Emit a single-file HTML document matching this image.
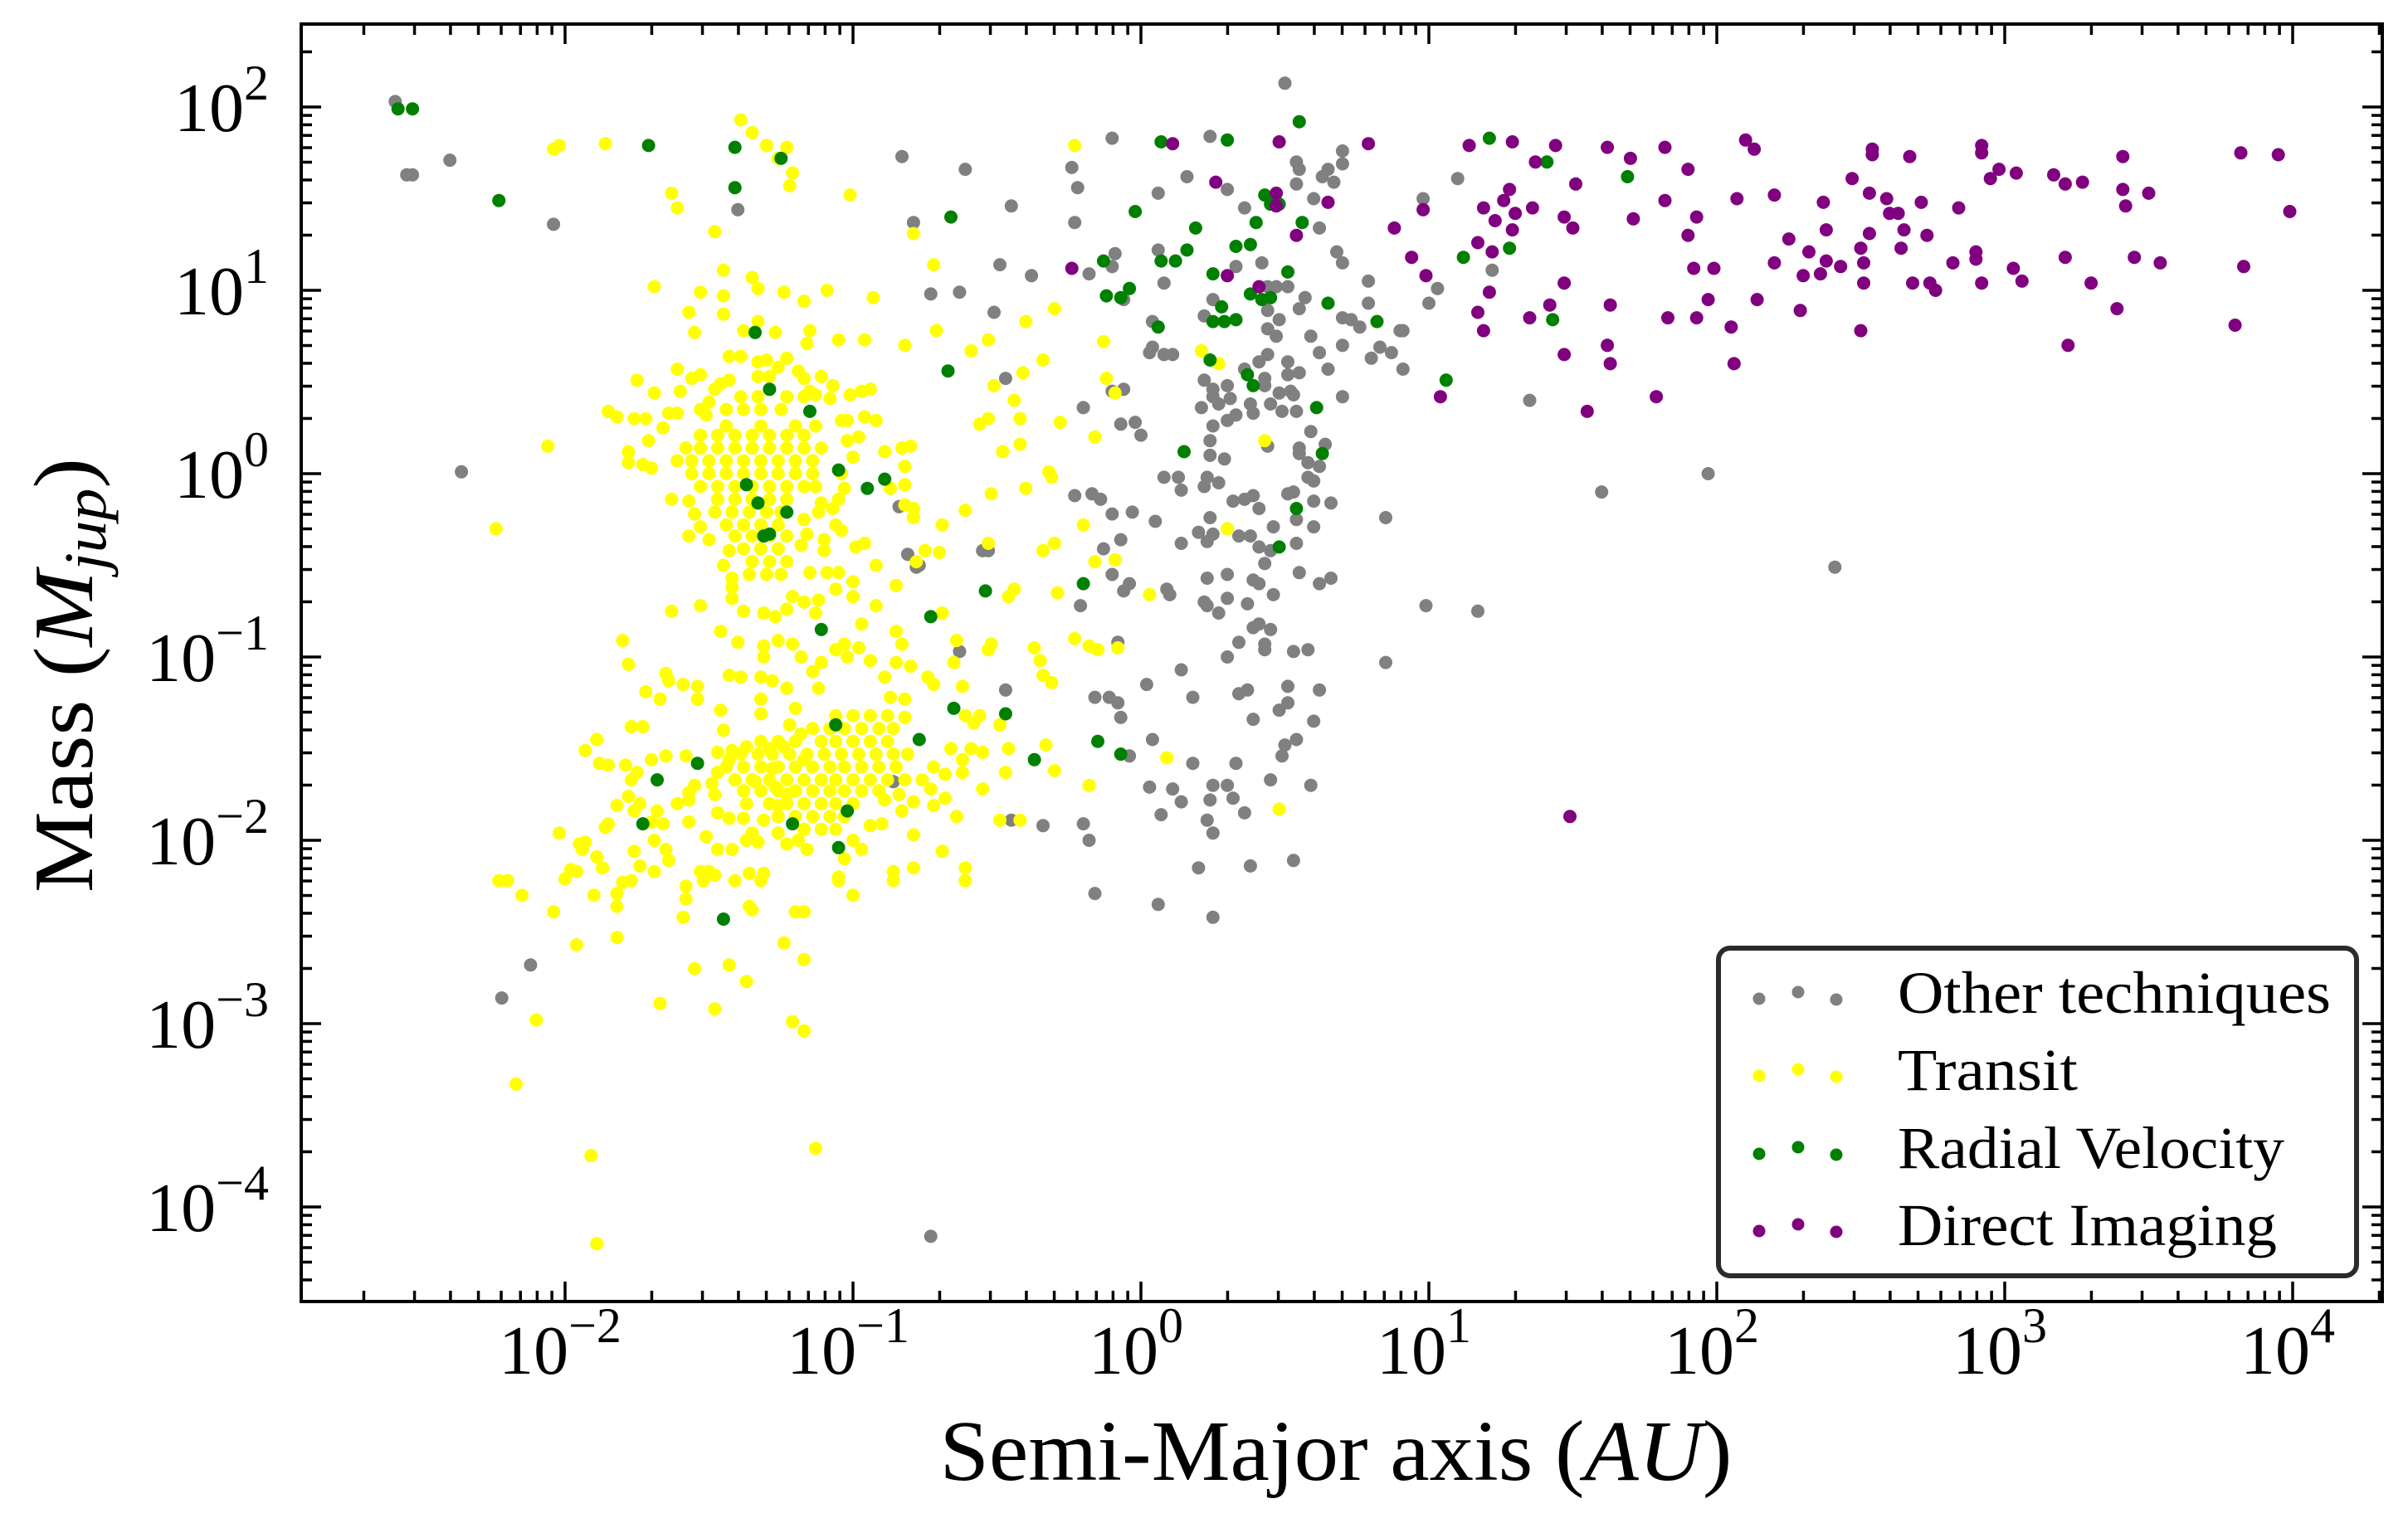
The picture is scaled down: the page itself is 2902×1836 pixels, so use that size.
<!DOCTYPE html>
<html>
<head>
<meta charset="utf-8">
<title>Exoplanet mass vs semi-major axis</title>
<style>
  html, body { margin: 0; padding: 0; background: #ffffff; }
  svg { display: block; }
  text { font-family: "Liberation Serif", "DejaVu Serif", serif; fill: #000; }
</style>
</head>
<body>
<svg id="chart" width="2902" height="1836" viewBox="0 0 2902 1836" xmlns="http://www.w3.org/2000/svg">
  <rect x="0" y="0" width="2902" height="1836" fill="#ffffff"/>
  <g id="points"></g>
  <g id="ticks"></g>
  <rect x="363" y="29" width="2508" height="1540" fill="none" stroke="#000" stroke-width="4"/>
  <g id="xlabels"></g>
  <g id="ylabels"></g>
  <text x="1610" y="1784" font-size="104" text-anchor="middle" textLength="955" lengthAdjust="spacingAndGlyphs">Semi-Major axis (<tspan font-style="italic">AU</tspan>)</text>
  <text transform="translate(111,814) rotate(-90)" font-size="102" text-anchor="middle" textLength="524" lengthAdjust="spacingAndGlyphs">Mass (<tspan font-style="italic">M</tspan><tspan font-style="italic" font-size="72" dy="16">jup</tspan><tspan dy="-16">)</tspan></text>
  <g id="legend">
    <rect x="2071" y="1143" width="769" height="395" rx="14" ry="14" fill="#ffffff" stroke="#2b2b2b" stroke-width="6"/>
  </g>
</svg>
<script>
// ---- data (log10 of semi-major axis in AU, log10 of mass in Jupiter masses) ----
const xTickExps = [-2, -1, 0, 1, 2, 3, 4];
const yTickExps = [-4, -3, -2, -1, 0, 1, 2];
const seriesNames = ["Other techniques", "Transit", "Radial Velocity", "Direct Imaging"];
const seriesColors = ["#808080", "#ffff00", "#008000", "#800080"];

const otherPts = [
[-2.59,2.03],[-2.55,1.63],[-2.53,1.63],[-2.40,1.71],[-2.04,1.36],[-1.40,1.44],[-0.83,1.73],[0.50,2.13],[-2.36,0.01],[2.41,-0.51],
[-0.84,-0.18],[-0.81,-0.44],[-0.78,-0.51],[-2.12,-2.68],[-2.22,-2.86],[-0.86,-1.68],[-0.73,-4.16],
[-0.61,1.66],[-0.24,1.67],[-0.22,1.56],[-0.45,1.46],[-0.23,1.37],[-0.79,1.37],[-0.49,1.14],[-0.38,1.08],[-0.73,0.98],[-0.63,0.99],[-0.51,0.88],
[-0.10,1.83],[0.16,1.62],[0.06,1.53],[0.24,1.84],[0.30,1.55],[0.36,1.45],[0.54,1.70],[0.55,1.66],[0.54,1.58],[0.65,1.66],[0.63,1.62],[0.67,1.59],
[0.70,1.76],[0.70,1.69],[0.60,1.50],[0.62,1.34],[0.68,1.21],[0.70,1.15],[1.10,1.61],[0.98,1.50],[-0.09,1.20],[-0.10,1.13],[-0.18,1.09],[0.06,1.22],
[0.08,1.04],[-0.06,0.95],[0.33,1.13],[0.42,1.15],[0.44,1.02],[0.47,1.02],[0.51,1.02],[0.57,0.96],[0.55,0.90],[0.44,0.89],[0.48,0.84],[0.44,0.79],
[0.47,0.75],[0.25,0.95],[0.22,0.86],[0.04,0.83],[0.04,0.69],[0.03,0.66],[0.08,0.65],[0.11,0.65],[0.79,1.05],[0.79,0.93],[0.70,0.85],[0.73,0.84],
[0.76,0.80],[0.59,0.75],[0.70,0.70],[0.62,0.66],[0.83,0.69],[0.87,0.66],[0.80,0.63],[0.90,0.78],[0.91,0.78],[0.91,0.57],[1.03,1.01],[1.00,0.93],
[0.51,0.61],[0.41,0.61],[0.44,0.65],[0.36,0.57],[0.43,0.52],[0.43,0.48],[0.51,0.54],[0.55,0.55],[0.65,0.57],[0.70,0.42],[0.22,0.51],[0.30,0.48],
[0.25,0.46],[0.25,0.42],[0.31,0.41],[0.27,0.38],[0.21,0.36],[0.38,0.38],[0.39,0.33],[0.45,0.38],[0.48,0.44],[0.52,0.45],[0.53,0.43],[0.49,0.34],
[0.54,0.34],[0.33,0.32],[0.30,0.29],[0.25,0.26],[0.24,0.18],[0.24,0.10],[0.29,0.08],[0.44,0.15],[0.55,0.14],[0.55,0.11],[0.58,0.06],[0.62,0.04],
[0.64,0.16],[0.59,0.23],[-0.06,0.46],[-0.10,0.45],[-0.20,0.36],[-0.07,0.27],[-0.02,0.28],[0.00,0.21],[-0.47,0.52],[0.08,-0.02],[0.13,-0.02],
[0.14,-0.09],[0.23,-0.02],[0.22,-0.07],[0.27,-0.05],[0.32,-0.15],[0.36,-0.14],[0.39,-0.12],[0.41,-0.19],[0.51,-0.11],[0.53,-0.10],[0.58,-0.02],
[0.60,-0.04],[0.60,-0.15],[0.66,-0.16],[0.54,-0.25],[0.60,-0.29],[0.85,-0.24],[-0.23,-0.12],[-0.17,-0.11],[-0.14,-0.14],[-0.10,-0.22],[-0.03,-0.21],
[0.05,-0.26],[0.24,-0.24],[0.20,-0.32],[0.25,-0.33],[0.23,-0.37],[0.34,-0.34],[0.38,-0.34],[0.41,-0.40],[0.46,-0.29],[0.45,-0.42],[0.54,-0.38],
[0.43,-0.49],[0.14,-0.38],[-0.07,-0.36],[-0.13,-0.41],[-0.55,-0.42],[-0.53,-0.42],[-0.77,-0.50],[-0.10,-0.55],[-0.04,-0.60],[-0.06,-0.64],
[0.09,-0.63],[0.10,-0.66],[-0.21,-0.72],[0.23,-0.57],[0.30,-0.55],[0.39,-0.58],[0.41,-0.60],[0.46,-0.66],[0.55,-0.54],[0.62,-0.60],[0.66,-0.57],
[0.22,-0.70],[0.23,-0.72],[0.30,-0.68],[0.37,-0.71],[0.27,-0.76],[0.99,-0.72],[1.17,-0.75],[0.39,-0.84],[0.41,-0.82],[0.45,-0.85],[0.34,-0.92],
[0.43,-0.93],[0.43,-0.96],[0.30,-1.00],[0.53,-0.97],[0.58,-0.96],[0.85,-1.03],[0.14,-1.07],[-0.08,-0.92],[-0.63,-0.97],
[-0.47,-1.18],[-0.16,-1.22],[-0.11,-1.22],[-0.08,-1.25],[-0.07,-1.33],[0.02,-1.15],[0.18,-1.22],[0.34,-1.20],[0.37,-1.18],[0.51,-1.16],[0.62,-1.18],
[0.48,-1.29],[0.51,-1.25],[0.39,-1.34],[0.60,-1.35],[0.04,-1.45],[0.54,-1.45],[0.50,-1.48],[0.49,-1.54],[-0.04,-1.54],[0.18,-1.58],[0.33,-1.58],
[0.03,-1.71],[0.11,-1.72],[0.14,-1.79],[0.07,-1.86],[0.25,-1.70],[0.30,-1.70],[0.24,-1.78],[0.32,-1.77],[0.36,-1.85],[0.45,-1.67],[0.59,-1.70],
[0.23,-1.89],[0.25,-1.96],[-0.20,-1.91],[-0.18,-2.00],[-0.34,-1.92],[-0.45,-1.89],[0.20,-2.15],[0.38,-2.14],[0.53,-2.11],[-0.16,-2.29],[0.06,-2.35],[0.25,-2.42],
[1.35,0.40],[1.97,0.00],[1.60,-0.10],[1.22,1.11]
];

const transitPts = [
[-2.04,1.77],[-2.02,1.79],[-1.86,1.80],[-1.63,1.53],[-1.61,1.45],[-1.39,1.93],[-1.35,1.86],[-1.30,1.79],[-1.23,1.78],[-1.26,1.72],[-1.21,1.64],
[-1.22,1.57],[-1.01,1.52],[-1.48,1.32],[-0.79,1.31],[-0.23,1.79],
[-1.45,1.11],[-1.69,1.02],[-1.35,1.07],[-1.33,1.01],[-1.53,0.99],[-1.45,0.97],[-1.24,0.99],[-1.09,1.00],[-0.93,0.96],[-0.72,1.14],[-1.57,0.88],
[-1.45,0.87],[-1.17,0.94],[-1.55,0.77],[-1.33,0.83],[-1.27,0.77],[-1.15,0.78],[-1.38,0.78],[-1.16,0.71],[-1.05,0.73],[-0.96,0.73],[-0.82,0.70],
[-0.71,0.78],[-0.59,0.67],[-0.53,0.73],[-0.40,0.83],[-0.30,0.90],[-0.13,0.72],[-0.34,0.62],[-0.41,0.55],[-0.51,0.48],[-0.44,0.40],[-0.42,0.30],
[-0.53,0.30],[-0.56,0.27],[-0.28,0.28],[-0.16,0.20],[-0.12,0.52],[-0.09,0.44],[-0.48,0.12],[-0.42,0.16],[-0.32,0.01],[-0.31,-0.02],[-0.40,-0.08],
[-0.52,-0.11],[-0.61,-0.20],[-0.69,-0.28],[-0.20,-0.28],[-0.53,-0.38],[-0.30,-0.38],[-0.34,-0.42],[-0.16,-0.48],[-0.09,-0.47],[-0.75,-0.42],
[-0.70,-0.43],[-0.78,-0.48],[-0.85,-0.61],[-0.44,-0.63],[-0.46,-0.67],[-0.29,-0.65],[-0.69,-0.76],
[-1.75,0.51],[-1.69,0.44],[-1.85,0.34],[-1.82,0.31],[-1.76,0.30],[-1.72,0.30],[-1.78,0.12],[-1.71,0.18],[-1.78,0.06],[-1.73,0.05],[-1.70,0.03],
[-1.66,0.25],[-1.64,0.33],[-1.61,0.33],[-1.60,0.45],[-1.61,0.57],[-1.56,0.52],[-1.53,0.54],[-1.50,0.39],[-1.51,0.32],[-1.48,0.46],[-1.46,0.49],
[-1.43,0.51],[-1.43,0.64],[-1.39,0.64],[-1.33,0.61],[-1.30,0.62],[-1.26,0.58],[-1.23,0.63],[-1.19,0.56],[-1.17,0.52],[-1.11,0.53],[-1.07,0.48],
[-1.13,0.43],[-1.15,0.45],[-1.08,0.41],[-1.01,0.43],[-0.97,0.45],[-0.94,0.46],[-1.04,0.29],[-1.02,0.29],[-0.96,0.31],[-0.92,0.29],[-0.98,0.20],
[-1.02,0.18],[-1.00,0.09],[-0.89,0.12],[-0.83,0.14],[-0.80,0.15],[-0.82,0.04],[-0.87,-0.08],[-0.82,-0.06],[-0.82,-0.17],[-0.79,-0.19],[-0.79,-0.24],
[-1.04,0.00],[-1.03,-0.08],[-1.05,-0.14],[-1.07,-0.19],[-1.11,-0.16],[-1.12,-0.21],[-1.06,-0.28],[-1.04,-0.31],[-1.10,-0.36],[-1.10,-0.42],
[-1.17,-0.25],[-1.16,-0.33],[-1.18,-0.39],[-0.99,-0.40],[-0.96,-0.38],[-0.92,-0.50],[-1.09,-0.54],[-1.15,-0.54],[-1.05,-0.54],[-1.00,-0.59],
[-1.06,-0.63],[-1.00,-0.67],[-1.12,-0.69],[-1.13,-0.76],[-1.21,-0.67],[-1.17,-0.70],[-1.23,-0.74],[-1.27,-0.78],[-1.31,-0.76],[-0.92,-0.72],
[-1.63,-0.14],[-1.57,-0.15],[-1.55,-0.22],[-1.57,-0.34],[-1.50,-0.36],[-1.53,-0.29],[-1.45,-0.50],[-1.43,-0.42],[-1.42,-0.57],[-1.42,-0.62],
[-1.42,-0.68],[-1.38,-0.75],[-1.53,-0.72],[-1.63,-0.75],[-2.06,0.15],[-2.24,-0.30],
[-1.33,0.53],[-1.29,0.53],
[-1.39,0.42],[-1.33,0.42],[-1.23,0.42],[-1.17,0.42],
[-1.53,0.35],[-1.44,0.35],[-1.38,0.35],[-1.32,0.35],[-1.25,0.35],
[-1.44,0.26],[-1.32,0.26],[-1.20,0.26],[-1.13,0.26],
[-1.53,0.21],[-1.47,0.21],[-1.41,0.21],[-1.35,0.21],[-1.29,0.21],[-1.23,0.21],[-1.17,0.21],
[-1.58,0.14],[-1.53,0.14],[-1.47,0.14],[-1.41,0.14],[-1.35,0.14],[-1.29,0.14],[-1.23,0.14],[-1.17,0.14],[-1.11,0.14],
[-1.61,0.07],[-1.56,0.07],[-1.50,0.07],[-1.44,0.07],[-1.38,0.07],[-1.32,0.07],[-1.26,0.07],[-1.20,0.07],[-1.14,0.07],
[-1.56,0.00],[-1.50,0.00],[-1.44,0.00],[-1.38,0.00],[-1.32,0.00],[-1.26,0.00],[-1.20,0.00],[-1.14,0.00],
[-1.53,-0.07],[-1.47,-0.07],[-1.41,-0.07],[-1.35,-0.07],[-1.29,-0.07],[-1.23,-0.07],[-1.17,-0.07],[-1.13,-0.07],
[-1.47,-0.14],[-1.41,-0.14],[-1.35,-0.14],[-1.29,-0.14],[-1.23,-0.14],
[-1.48,-0.21],[-1.42,-0.21],[-1.36,-0.21],[-1.30,-0.21],[-1.25,-0.21],
[-1.44,-0.28],[-1.38,-0.28],[-1.32,-0.28],[-1.26,-0.28],
[-1.41,-0.34],[-1.35,-0.34],[-1.29,-0.34],[-1.23,-0.34],
[-1.38,-0.41],[-1.32,-0.41],[-1.26,-0.41],
[-1.35,-0.48],[-1.29,-0.48],[-1.23,-0.48],
[-1.36,-0.55],[-1.30,-0.55],[-1.25,-0.55],
[-1.80,-0.91],[-1.78,-1.04],[-1.72,-1.19],[-1.67,-1.23],[-1.65,-1.09],[-1.64,-1.13],[-1.59,-1.15],[-1.54,-1.16],[-1.54,-1.23],[-1.93,-1.51],
[-1.89,-1.45],[-1.88,-1.58],[-1.85,-1.59],[-1.79,-1.59],[-1.70,-1.56],[-1.65,-1.54],[-1.58,-1.54],[-1.77,-1.38],[-1.73,-1.38],[-1.75,-1.63],
[-1.77,-1.67],[-1.78,-1.76],[-1.82,-1.81],[-1.74,-1.80],[-1.68,-1.84],[-1.76,-1.84],[-1.66,-1.91],[-1.70,-1.90],[-1.85,-1.91],[-1.86,-1.93],
[-2.02,-1.96],[-1.95,-2.02],[-1.93,-2.01],[-1.94,-2.05],[-1.89,-2.09],[-1.87,-2.15],[-1.98,-2.16],[-1.96,-2.17],[-2.00,-2.21],[-2.23,-2.22],
[-2.20,-2.22],[-2.15,-2.30],[-2.04,-2.39],[-1.90,-2.30],[-1.82,-2.36],[-1.82,-2.29],[-1.80,-2.23],[-1.77,-2.22],[-1.76,-2.06],[-1.74,-2.14],
[-1.69,-2.17],[-1.69,-2.00],[-1.65,-2.05],[-1.64,-2.11],[-1.57,-1.90],[-1.61,-1.80],[-1.57,-1.74],[-1.57,-1.78],[-1.55,-1.70],[-1.58,-2.25],
[-1.58,-2.32],[-1.59,-2.42],[-1.53,-2.17],[-1.50,-2.17],[-1.52,-2.22],[-1.48,-2.19],[-1.51,-1.98],[-1.47,-2.05],[-1.42,-2.05],[-1.41,-2.22],
[-1.36,-2.18],[-1.31,-2.18],[-1.32,-2.22],[-1.36,-2.36],[-1.35,-2.38],[-1.20,-2.39],[-1.17,-2.39],[-1.24,-2.56],[-1.17,-2.65],[-1.55,-2.70],
[-1.43,-2.68],[-1.37,-2.77],[-1.67,-2.89],[-1.48,-2.92],[-1.21,-2.99],[-1.17,-3.04],[-1.82,-2.53],[-1.96,-2.57],[-2.10,-2.98],[-2.17,-3.33],
[-1.91,-3.72],[-1.13,-3.68],[-1.89,-4.20],[-1.00,-2.30],[-1.05,-2.22],[-1.05,-2.20],[-1.03,-2.10],[-0.97,-2.05],[-1.00,-2.00],[-0.86,-2.22],
[-0.86,-2.17],[-0.79,-2.15],[-0.79,-1.97],[-0.69,-2.06],[-0.61,-2.15],[-0.61,-2.22],[-0.64,-1.87],[-0.55,-1.72],[-0.49,-1.89],[-0.42,-1.89],
[-0.47,-1.63],[-0.46,-1.50],[-0.33,-1.48],[-0.30,-1.62],[-0.18,-1.70],[-0.49,-1.37],[-0.62,-1.16],[-0.64,-0.91],[-0.65,-1.03],[-0.56,-1.32],
[-0.58,-1.36],[-0.61,-1.32],[-0.66,-1.50],[-0.62,-1.56],[-0.62,-1.63],[-0.59,-1.50],[-0.55,-1.52],[-0.68,-1.64],[-0.72,-1.60],[-0.68,-1.77],
[-0.72,-1.81],[-0.73,-1.72],[-0.79,-1.79],[-0.84,-1.75],[-0.83,-1.84],[-0.89,-1.78],[-0.90,-1.91],[-0.94,-1.92],[-0.82,-1.23],[-0.82,-1.33],
[-0.87,-1.22],[-0.83,-0.93],[-0.85,-0.86],[-0.85,-1.03],[-0.80,-1.05],[-0.74,-1.11],[-0.72,-1.15],[-0.89,-1.11],[-0.94,-1.02],[-0.98,-0.95],
[-1.02,-1.00],[-1.06,-0.96],[-1.03,-0.93],[-0.97,-0.82],[-1.11,-1.03],[-1.14,-1.08],[-1.12,-1.17],[-1.18,-1.00],[-1.21,-0.93],[-1.26,-0.91],
[-1.31,-0.94],[-1.31,-1.00],[-1.40,-0.92],[-1.46,-0.86],[-1.43,-1.10],[-1.39,-1.11],[-1.32,-1.11],[-1.28,-1.13],[-1.23,-1.17],[-1.32,-1.23],
[-1.32,-1.31],[-1.46,-1.29],[-1.45,-1.40],[-1.20,-1.28],[-1.22,-1.37],[-1.18,-1.42],[-1.37,-1.49],[-1.43,-1.56],[-1.47,-1.52],[-1.42,-1.51],
[-1.47,-1.63],[-1.49,-1.69],[-1.48,-1.75],[-1.47,-1.85],[-1.43,-1.88],[-1.38,-1.88],[-1.31,-1.89],[-1.26,-1.96],[-1.23,-2.02],[-1.19,-2.00],
[-1.16,-2.05],[-1.35,-1.96],[-1.37,-2.00],[-1.33,-2.01],[-1.37,-1.80],[-1.34,-1.68],[-1.26,-1.81],[-1.23,-1.75],[-1.27,-1.71],[-1.28,-1.61],
[-1.29,-1.50],[-1.24,-1.49],[-1.17,-1.56],
[-0.23,-0.90],[-0.18,-0.94],[-0.15,-0.96],[-0.08,-0.95],[-0.37,-0.95],[-0.35,-1.02],[-0.34,-1.10],[-0.31,-1.14],[-0.53,-0.96],[-0.52,-0.93],
[-1.06,-1.32],[-1.00,-1.32],[-0.94,-1.32],[-0.88,-1.32],
[-1.14,-1.39],[-1.08,-1.39],[-1.03,-1.39],[-0.97,-1.39],[-0.91,-1.39],[-0.86,-1.39],
[-1.32,-1.46],[-1.26,-1.46],[-1.20,-1.46],[-1.11,-1.46],[-1.06,-1.46],[-1.00,-1.46],[-0.94,-1.46],[-0.88,-1.46],
[-1.39,-1.53],[-1.33,-1.53],[-1.28,-1.53],[-1.22,-1.53],[-1.16,-1.53],[-1.10,-1.53],[-1.04,-1.53],[-0.98,-1.53],[-0.92,-1.53],[-0.86,-1.53],[-0.81,-1.53],
[-1.44,-1.60],[-1.38,-1.60],[-1.32,-1.60],[-1.26,-1.60],[-1.20,-1.60],[-1.14,-1.60],[-1.08,-1.60],[-1.03,-1.60],[-0.97,-1.60],[-0.91,-1.60],[-0.85,-1.60],
[-1.41,-1.67],[-1.35,-1.67],[-1.29,-1.67],[-1.23,-1.67],[-1.17,-1.67],[-1.11,-1.67],[-1.06,-1.67],[-1.00,-1.67],[-0.94,-1.67],[-0.88,-1.67],[-0.82,-1.67],[-0.76,-1.67],
[-1.38,-1.73],[-1.32,-1.73],[-1.26,-1.73],[-1.20,-1.73],[-1.14,-1.73],[-1.08,-1.73],[-1.03,-1.73],[-0.97,-1.73],[-0.91,-1.73],
[-1.29,-1.80],[-1.23,-1.80],[-1.17,-1.80],[-1.11,-1.80],[-1.06,-1.80],[-1.00,-1.80],
[-1.26,-1.87],[-1.20,-1.87],[-1.14,-1.87],[-1.08,-1.87],[-1.03,-1.87],
[-1.17,-1.94],[-1.11,-1.94],[-1.06,-1.94],
[0.21,0.67],[0.27,0.60],[0.43,0.18],[0.30,-0.30],[0.03,-0.66],[0.09,-1.55],[0.48,-1.83]
];

const rvPts = [
[-2.58,1.99],[-2.53,1.99],[-2.23,1.49],[-1.71,1.79],[-1.41,1.78],[-1.41,1.56],[-1.25,1.72],
[-1.34,0.77],[-1.29,0.46],[-1.15,0.34],[-1.05,0.02],[-0.95,-0.08],[-0.89,-0.03],[-1.37,-0.06],[-1.33,-0.16],[-1.23,-0.21],[-1.31,-0.34],[-1.29,-0.33],
[-1.11,-0.85],[-1.06,-1.37],[-1.54,-1.58],[-1.68,-1.67],[-1.73,-1.91],[-1.21,-1.91],[-1.02,-1.84],[-1.05,-2.04],[-1.45,-2.43],
[0.55,1.92],[0.30,1.82],[0.07,1.81],[-0.66,1.40],[-0.02,1.43],[0.19,1.34],[0.40,1.37],[0.43,1.52],[0.45,1.47],[0.48,1.47],[0.56,1.37],
[0.33,1.24],[0.38,1.25],[0.16,1.22],[0.12,1.16],[0.07,1.16],[-0.13,1.16],[-0.04,1.01],[-0.12,0.97],[-0.07,0.96],[0.25,1.09],[0.51,1.10],
[0.38,0.98],[0.42,0.95],[0.45,0.96],[0.65,0.93],[0.28,0.91],[0.25,0.83],[0.29,0.83],[0.33,0.84],[0.06,0.80],[0.82,0.83],[-0.67,0.56],
[0.24,0.62],[0.37,0.54],[0.39,0.48],[0.61,0.36],[0.15,0.12],[0.63,0.11],[0.54,-0.19],[0.48,-0.40],[-0.54,-0.64],[-0.20,-0.60],[-0.73,-0.78],[1.06,0.51],
[-0.65,-1.28],[-0.47,-1.31],[-0.77,-1.45],[-0.37,-1.56],[-0.15,-1.46],[-0.07,-1.53],
[1.21,1.83],[1.41,1.70],[1.69,1.62],[1.28,1.23],[1.12,1.18],[1.43,0.84]
];

const diPts = [
[0.11,1.80],[0.26,1.59],[0.48,1.81],[0.79,1.80],[0.47,1.53],[0.47,1.46],[0.65,1.48],[0.54,1.30],[0.88,1.34],[0.94,1.18],[0.99,1.08],[-0.24,1.12],
[0.30,1.08],[0.41,1.02],[0.98,1.44],[1.04,0.42],
[1.14,1.79],[1.29,1.81],[1.44,1.79],[1.62,1.78],[1.82,1.78],[2.10,1.82],[2.13,1.77],[2.54,1.77],[2.54,1.74],[2.67,1.73],[2.92,1.79],[2.92,1.75],
[3.41,1.73],[3.82,1.75],[3.95,1.74],[1.37,1.70],[1.70,1.72],[1.90,1.66],[1.51,1.58],[1.28,1.55],[1.26,1.49],[1.19,1.45],[1.36,1.45],[1.30,1.42],
[1.23,1.38],[1.47,1.40],[1.50,1.34],[1.29,1.33],[1.71,1.39],[1.82,1.49],[1.93,1.40],[1.90,1.30],[2.07,1.50],[2.20,1.52],[2.37,1.48],[2.47,1.61],
[2.53,1.53],[2.59,1.50],[2.71,1.48],[2.84,1.45],[2.60,1.42],[2.63,1.42],[2.98,1.66],[3.04,1.64],[2.95,1.61],[3.17,1.63],[3.21,1.58],[3.27,1.59],
[3.41,1.55],[3.50,1.53],[3.42,1.46],[3.99,1.43],[2.38,1.33],[2.53,1.31],[2.65,1.33],[2.73,1.30],[2.25,1.28],[1.17,1.26],[1.22,1.21],[2.32,1.21],
[2.50,1.23],[2.64,1.23],[2.90,1.21],[2.90,1.17],[2.38,1.16],[2.20,1.15],[2.43,1.13],[2.51,1.15],[2.36,1.09],[2.30,1.08],[1.92,1.12],[1.99,1.12],
[2.82,1.15],[3.03,1.12],[3.21,1.18],[3.45,1.18],[3.54,1.15],[3.83,1.13],[1.47,1.04],[1.21,0.99],[2.51,1.04],[2.68,1.04],[2.74,1.04],[2.76,1.00],
[2.92,1.04],[3.06,1.05],[3.30,1.04],[1.42,0.92],[1.63,0.92],[1.97,0.95],[2.14,0.95],[2.29,0.89],[3.39,0.90],[1.17,0.88],[1.35,0.85],[1.83,0.85],
[1.93,0.85],[2.05,0.80],[1.19,0.78],[2.50,0.78],[3.80,0.81],[1.62,0.70],[1.47,0.65],[1.63,0.60],[2.06,0.60],[3.22,0.70],[1.79,0.42],[1.55,0.34],
[1.49,-1.87]
];

const allSeries = [otherPts, transitPts, rvPts, diPts];

// ---- axes ----
const PX0 = 363, PX1 = 2871, PY0 = 29, PY1 = 1569;
const X_REF = 681, X_DEC = 347;
const Y_REF = 129, Y_DEC = 221;
function xScale(logA) { return X_REF + X_DEC * (logA + 2); }
function yScale(logM) { return Y_REF + Y_DEC * (2 - logM); }
const XMIN = -2 - (X_REF - PX0) / X_DEC, XMAX = -2 + (PX1 - X_REF) / X_DEC;
const YMAX = 2 + (Y_REF - PY0) / Y_DEC, YMIN = 2 - (PY1 - Y_REF) / Y_DEC;

const NS = "http://www.w3.org/2000/svg";

const gPts = document.getElementById("points");
const seriesKeys = ["other-techniques", "transit", "radial-velocity", "direct-imaging"];
allSeries.forEach(function (pts, si) {
  const g = document.createElementNS(NS, "g");
  
  
  g.setAttribute("fill", seriesColors[si]);
  pts.forEach(function (p) {
    const c = document.createElementNS(NS, "circle");
    c.setAttribute("cx", xScale(p[0]).toFixed(1));
    c.setAttribute("cy", yScale(p[1]).toFixed(1));
    c.setAttribute("r", "8");
    
    
    g.appendChild(c);
  });
  gPts.appendChild(g);
});

const gT = document.getElementById("ticks");
function line(x1, y1, x2, y2, name) {
  const l = document.createElementNS(NS, "line");
  l.setAttribute("x1", x1); l.setAttribute("y1", y1);
  l.setAttribute("x2", x2); l.setAttribute("y2", y2);
  l.setAttribute("stroke", "#000"); l.setAttribute("stroke-width", "3.5");
  
  
  gT.appendChild(l);
}
for (let e = Math.floor(XMIN); e <= Math.ceil(XMAX); e++) {
  for (let k = 1; k <= 9; k++) {
    const v = e + Math.log10(k);
    if (v < XMIN || v > XMAX) continue;
    const x = xScale(v), len = (k === 1) ? 24 : 13;
    line(x, PY1, x, PY1 - len, k === 1 ? "x-major-tick" : "x-minor-tick");
    line(x, PY0, x, PY0 + len, k === 1 ? "x-major-tick-top" : "x-minor-tick-top");
  }
}
for (let e = Math.floor(YMIN); e <= Math.ceil(YMAX); e++) {
  for (let k = 1; k <= 9; k++) {
    const v = e + Math.log10(k);
    if (v < YMIN || v > YMAX) continue;
    const y = yScale(v), len = (k === 1) ? 24 : 13;
    line(PX0, y, PX0 + len, y, k === 1 ? "y-major-tick" : "y-minor-tick");
    line(PX1, y, PX1 - len, y, k === 1 ? "y-major-tick-right" : "y-minor-tick-right");
  }
}

function powLabel(exp) { return exp < 0 ? "\u2212" + Math.abs(exp) : String(exp); }
const gX = document.getElementById("xlabels");
xTickExps.forEach(function (e) {
  const t = document.createElementNS(NS, "text");
  t.setAttribute("x", xScale(e) - 6);
  t.setAttribute("y", 1656);
  t.setAttribute("font-size", "84");
  t.setAttribute("text-anchor", "middle");
  
  
  t.appendChild(document.createTextNode("10"));
  const s = document.createElementNS(NS, "tspan");
  s.setAttribute("font-size", "60"); s.setAttribute("dy", "-38");
  s.textContent = powLabel(e);
  t.appendChild(s);
  gX.appendChild(t);
});
const gY = document.getElementById("ylabels");
yTickExps.forEach(function (e) {
  const t = document.createElementNS(NS, "text");
  t.setAttribute("x", 324);
  t.setAttribute("y", yScale(e) + 29);
  t.setAttribute("font-size", "84");
  t.setAttribute("text-anchor", "end");
  
  
  t.appendChild(document.createTextNode("10"));
  const s = document.createElementNS(NS, "tspan");
  s.setAttribute("font-size", "60"); s.setAttribute("dy", "-38");
  s.textContent = powLabel(e);
  t.appendChild(s);
  gY.appendChild(t);
});

const gL = document.getElementById("legend");
const rowY = [1200, 1293, 1387, 1480];
const legendWidths = [522, 217, 466, 457];
seriesNames.forEach(function (name, i) {
  const g = document.createElementNS(NS, "g");
  
  
  [[2120, 4], [2167, -4], [2213, 5]].forEach(function (d) {
    const c = document.createElementNS(NS, "circle");
    c.setAttribute("cx", d[0]); c.setAttribute("cy", rowY[i] + d[1]);
    c.setAttribute("r", "7.5"); c.setAttribute("fill", seriesColors[i]);
    
    
    g.appendChild(c);
  });
  const t = document.createElementNS(NS, "text");
  t.setAttribute("x", 2287); t.setAttribute("y", rowY[i] + 21);
  t.setAttribute("font-size", "72");
  t.setAttribute("textLength", legendWidths[i]);
  t.setAttribute("lengthAdjust", "spacingAndGlyphs");
  
  
  t.textContent = name;
  g.appendChild(t);
  gL.appendChild(g);
});
</script>
</body>
</html>
